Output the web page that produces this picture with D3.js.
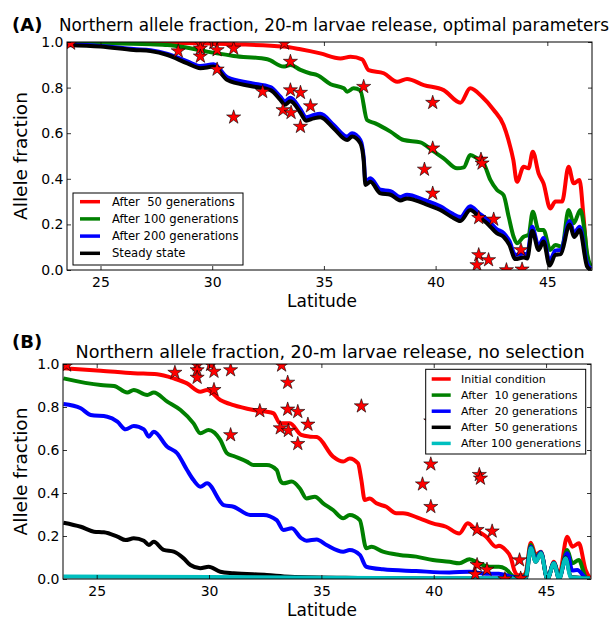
<!DOCTYPE html>
<html>
<head>
<meta charset="utf-8">
<script src="https://cdn.jsdelivr.net/npm/d3@7"></script>
<style>
  body { margin: 0; background: #fff; }
  svg { font-family: "DejaVu Sans", sans-serif; }
</style>
</head>
<body>
<svg id="fig" width="613" height="622"></svg>
<script>
// ---- data (latitude, allele fraction) ----
const latTicks = [25, 30, 35, 40, 45];
const fracTicks = [0, 0.2, 0.4, 0.6, 0.8, 1.0];

// observed samples (stars), same in both panels
const starLat = [23.66, 28.48, 29.47, 29.47, 29.47, 30.07, 30.22, 30.22, 30.96, 30.96,
  32.26, 33.23, 33.5, 33.5, 33.95, 34.4, 33.17, 33.53, 33.95, 36.78,
  39.87, 39.87, 39.5, 39.87, 42.03, 42.08, 41.93, 42.6, 43.82, 41.93,
  42.37, 41.85, 43.17, 43.87];
const starVal = [0.994, 0.96, 0.995, 0.972, 0.937, 0.997, 0.965, 0.88, 0.972, 0.67,
  0.782, 0.994, 0.914, 0.789, 0.778, 0.719, 0.702, 0.69, 0.629, 0.804,
  0.734, 0.534, 0.441, 0.336, 0.485, 0.468, 0.229, 0.222, 0.088, 0.066,
  0.044, 0.022, 0.0, 0.003];

// panel A: optimal parameters
const a50 = [[23.52,0.998],[25,0.998],[27.24,0.997],[29.47,0.994],[31,0.99],[33.19,0.98],
  [33.95,0.968],[34.84,0.95],[35.74,0.928],[36.19,0.935],[36.71,0.924],[37.0,0.877],
  [37.68,0.863],[38.28,0.826],[38.72,0.838],[39.47,0.811],[40.36,0.789],[41.11,0.734],
  [41.55,0.797],[42.08,0.76],[42.6,0.702],[43.04,0.636],[43.26,0.57],[43.48,0.482],
  [43.64,0.387],[43.94,0.453],[44.16,0.446],[44.35,0.519],[44.61,0.424],[44.83,0.38],
  [45.13,0.27],[45.36,0.3],[45.66,0.3],[45.95,0.453],[46.18,0.38],[46.44,0.395],
  [46.62,0.234],[46.78,0.058],[46.95,0.015]];
const a100 = [[23.52,0.997],[25,0.995],[27.24,0.99],[28.0,0.987],[28.89,0.975],[30.22,0.95],
  [30.96,0.939],[32.47,0.924],[33.19,0.892],[33.5,0.899],[33.95,0.878],[34.4,0.862],
  [34.7,0.855],[35.3,0.815],[35.89,0.797],[36.04,0.782],[36.33,0.797],[36.63,0.788],
  [36.93,0.658],[37.3,0.643],[37.98,0.607],[38.57,0.57],[39.32,0.56],[39.91,0.52],
  [40.36,0.49],[40.96,0.446],[41.26,0.45],[41.55,0.504],[41.85,0.49],[42.15,0.468],
  [42.45,0.395],[42.75,0.351],[43.04,0.329],[43.27,0.234],[43.49,0.146],[43.64,0.117],
  [43.94,0.146],[44.16,0.154],[44.35,0.256],[44.61,0.175],[44.83,0.175],[45.13,0.088],
  [45.36,0.11],[45.66,0.102],[45.95,0.263],[46.18,0.205],[46.48,0.263],[46.66,0.175],
  [46.78,0.073],[46.95,0.015]];
const a200 = [[23.52,0.99],[25,0.983],[26.48,0.969],[27.24,0.964],[28.0,0.948],[28.89,0.915],
  [29.47,0.895],[30.06,0.902],[30.68,0.845],[31.71,0.82],[32.61,0.802],[33.05,0.76],
  [33.25,0.74],[33.5,0.755],[33.95,0.705],[34.2,0.67],[34.54,0.68],[34.84,0.685],
  [35.44,0.636],[36.04,0.585],[36.26,0.6],[36.63,0.57],[36.78,0.495],[36.86,0.388],
  [37.08,0.402],[37.53,0.352],[37.98,0.346],[38.42,0.32],[38.72,0.33],[39.47,0.308],
  [40.21,0.279],[40.7,0.25],[41.11,0.232],[41.55,0.28],[41.93,0.25],[42.3,0.222],
  [42.75,0.178],[43.04,0.163],[43.3,0.128],[43.57,0.066],[43.94,0.072],[44.1,0.068],
  [44.32,0.19],[44.61,0.105],[44.83,0.14],[45.1,0.04],[45.36,0.085],[45.6,0.088],
  [46.0,0.215],[46.2,0.162],[46.45,0.19],[46.78,0.03],[46.95,0.005]];
const aSteady = [[23.52,0.987],[25,0.98],[26.48,0.965],[27.24,0.96],[28.0,0.943],[28.89,0.906],
  [29.47,0.885],[30.06,0.892],[30.68,0.833],[31.71,0.807],[32.61,0.789],[33.05,0.746],
  [33.25,0.725],[33.5,0.74],[33.95,0.69],[34.2,0.655],[34.54,0.665],[34.84,0.67],
  [35.44,0.621],[36.04,0.57],[36.26,0.585],[36.63,0.556],[36.78,0.48],[36.86,0.373],
  [37.08,0.387],[37.53,0.336],[37.98,0.33],[38.42,0.305],[38.72,0.314],[39.47,0.292],
  [40.21,0.263],[40.7,0.234],[41.11,0.215],[41.55,0.263],[41.93,0.234],[42.3,0.205],
  [42.75,0.161],[43.04,0.146],[43.3,0.11],[43.57,0.048],[43.94,0.055],[44.1,0.05],
  [44.32,0.172],[44.61,0.088],[44.83,0.125],[45.1,0.02],[45.36,0.066],[45.6,0.07],
  [46.0,0.2],[46.2,0.145],[46.45,0.175],[46.78,0.015],[46.95,0.0]];

// panel B: no selection
const bInit = [[23.52,0.98],[25.18,0.969],[26.65,0.957],[27.69,0.952],[28.43,0.933],[29.02,0.91],
  [29.61,0.871],[29.91,0.879],[30.5,0.833],[31.09,0.809],[31.98,0.786],[32.86,0.771],
  [33.16,0.724],[33.6,0.724],[34.1,0.67],[34.5,0.662],[34.8,0.66],[35.52,0.569],
  [35.97,0.546],[36.26,0.561],[36.63,0.538],[36.78,0.46],[36.93,0.367],[37.15,0.375],
  [37.45,0.352],[37.89,0.336],[38.33,0.306],[38.63,0.306],[39.37,0.282],[39.96,0.259],
  [40.55,0.243],[41.14,0.212],[41.51,0.259],[41.88,0.228],[42.33,0.197],[42.77,0.15],
  [42.9,0.155],[43.2,0.135],[43.43,0.1],[43.58,0.042],[43.73,0.018],[44.0,0.018],
  [44.1,0.03],[44.32,0.169],[44.54,0.112],[44.77,0.127],[45.06,0.0],[45.35,0.08],
  [45.58,0.017],[45.94,0.197],[46.17,0.15],[46.46,0.166],[46.76,0.042],[46.95,0.005]];
const b10 = [[23.52,0.933],[25.18,0.902],[25.77,0.898],[26.36,0.867],[26.65,0.879],[27.25,0.856],
  [27.54,0.867],[28.14,0.825],[28.73,0.786],[29.31,0.724],[29.61,0.678],[29.98,0.693],
  [30.5,0.647],[30.8,0.585],[31.09,0.572],[31.68,0.546],[31.98,0.53],[32.57,0.53],
  [33.01,0.507],[33.16,0.46],[33.31,0.445],[33.68,0.453],[34.05,0.42],[34.34,0.375],
  [34.71,0.383],[35.08,0.352],[35.52,0.321],[35.97,0.282],[36.26,0.298],[36.71,0.274],
  [37.0,0.143],[37.23,0.15],[37.74,0.127],[38.48,0.112],[39.22,0.104],[39.96,0.088],
  [40.7,0.08],[41.14,0.073],[41.59,0.092],[42.03,0.073],[42.47,0.057],[42.9,0.057],
  [43.2,0.047],[43.58,0.01],[43.9,0.005],[44.1,0.02],[44.32,0.158],[44.54,0.1],
  [44.77,0.125],[45.06,0.005],[45.35,0.075],[45.58,0.01],[45.94,0.135],[46.17,0.073],
  [46.46,0.088],[46.76,0.01],[46.95,0.0]];
const b20 = [[23.52,0.814],[24.29,0.794],[24.73,0.763],[25.47,0.755],[25.92,0.732],[26.29,0.696],
  [26.65,0.712],[27.1,0.696],[27.32,0.662],[27.54,0.685],[28.14,0.615],[28.58,0.585],
  [29.02,0.507],[29.31,0.46],[29.61,0.429],[29.91,0.445],[30.65,0.344],[31.09,0.336],
  [31.83,0.298],[32.42,0.298],[33.01,0.274],[33.31,0.228],[33.68,0.236],[34.1,0.19],
  [34.34,0.178],[34.79,0.184],[35.23,0.158],[35.97,0.127],[36.26,0.135],[36.71,0.112],
  [37.0,0.057],[37.74,0.045],[39.22,0.037],[40.7,0.03],[41.59,0.034],[42.33,0.025],
  [42.9,0.025],[43.4,0.012],[43.7,0.005],[44.1,0.01],[44.32,0.15],[44.54,0.09],
  [44.77,0.125],[45.06,0.003],[45.35,0.075],[45.58,0.005],[45.94,0.12],[46.17,0.04],
  [46.39,0.042],[46.76,0.005],[46.95,0.0]];
const b50 = [[23.52,0.262],[24.29,0.243],[24.88,0.22],[25.32,0.217],[25.92,0.197],[26.29,0.181],
  [26.65,0.189],[27.1,0.178],[27.32,0.158],[27.54,0.173],[27.98,0.135],[28.43,0.127],
  [28.87,0.096],[29.17,0.065],[29.61,0.05],[29.98,0.057],[30.5,0.034],[31.09,0.027],
  [32.57,0.019],[33.6,0.011],[36.78,0.005],[40.0,0.002],[44.1,0.003],[44.32,0.144],
  [44.54,0.08],[44.77,0.12],[45.06,0.0],[45.35,0.073],[45.58,0.0],[45.87,0.1],
  [46.1,0.01],[46.5,0.006],[46.95,0.002]];
const b100 = [[23.52,0.012],[30,0.009],[35,0.006],[40,0.004],[44.0,0.003],[44.1,0.005],
  [44.32,0.144],[44.54,0.08],[44.77,0.12],[45.06,0.0],[45.35,0.073],[45.58,0.0],
  [45.87,0.096],[46.1,0.008],[46.5,0.005],[46.95,0.003]];

const seriesA = [
  {name: "After  50 generations", color: "#ff0000", data: a50},
  {name: "After 100 generations", color: "#008000", data: a100},
  {name: "After 200 generations", color: "#0000ff", data: a200},
  {name: "Steady state", color: "#000000", data: aSteady}
];
const seriesB = [
  {name: "Initial condition", color: "#ff0000", data: bInit},
  {name: "After  10 generations", color: "#008000", data: b10},
  {name: "After  20 generations", color: "#0000ff", data: b20},
  {name: "After  50 generations", color: "#000000", data: b50},
  {name: "After 100 generations", color: "#00bfbf", data: b100}
];

const svg = d3.select("#fig");

function drawPanel(p) {
  const x = d3.scaleLinear().domain([23.5, 47]).range([p.x0, p.x1]);
  const y = d3.scaleLinear().domain([0, 1]).range([p.y1, p.y0]);
  const g = svg.append("g");

  g.append("clipPath").attr("id", p.id + "clip")
    .append("rect")
    .attr("x", p.x0).attr("y", p.y0)
    .attr("width", p.x1 - p.x0).attr("height", p.y1 - p.y0);

  const plot = g.append("g").attr("clip-path", "url(#" + p.id + "clip)");

  const line = d3.line()
    .x(d => x(d[0]))
    .y(d => y(d[1]))
    .curve(d3.curveMonotoneX);

  p.series.forEach(s => {
    plot.append("path")
      .datum(s.data)
      .attr("d", line)
      .attr("fill", "none")
      .attr("stroke", s.color)
      .attr("stroke-width", 4)
      .attr("stroke-linejoin", "round");
  });

  const star = d3.symbol().type(d3.symbolStar).size(62);
  plot.selectAll(".star")
    .data(starLat.map((d, i) => [d, starVal[i]]))
    .enter().append("path")
    .attr("class", "star")
    .attr("transform", d => "translate(" + x(d[0]) + "," + y(d[1]) + ")")
    .attr("d", star)
    .attr("fill", "#ff0000")
    .attr("stroke", "#000")
    .attr("stroke-width", 0.6);

  // axes, ticks pointing inwards on all sides
  const bottom = g.append("g")
    .attr("transform", "translate(0," + p.y1 + ")")
    .call(d3.axisBottom(x).tickValues(latTicks).tickSizeInner(-4).tickSizeOuter(0).tickPadding(7.5));
  const left = g.append("g")
    .attr("transform", "translate(" + p.x0 + ",0)")
    .call(d3.axisLeft(y).tickValues(fracTicks).tickFormat(d3.format(".1f"))
      .tickSizeInner(-4).tickSizeOuter(0).tickPadding(3.5));
  const top = g.append("g")
    .attr("transform", "translate(0," + p.y0 + ")")
    .call(d3.axisTop(x).tickValues(latTicks).tickFormat("").tickSizeInner(-4).tickSizeOuter(0));
  const right = g.append("g")
    .attr("transform", "translate(" + p.x1 + ",0)")
    .call(d3.axisRight(y).tickValues(fracTicks).tickFormat("").tickSizeInner(-4).tickSizeOuter(0));

  [bottom, left, top, right].forEach(a => {
    a.select(".domain").remove();
    a.selectAll("line").attr("stroke", "#000").attr("stroke-width", 0.8);
    a.selectAll("text").attr("font-size", 14).attr("fill", "#000")
      .attr("font-family", "DejaVu Sans");
  });

  g.append("rect")
    .attr("x", p.x0).attr("y", p.y0)
    .attr("width", p.x1 - p.x0).attr("height", p.y1 - p.y0)
    .attr("fill", "none").attr("stroke", "#000").attr("stroke-width", 1);

  // legend
  const L = p.legend;
  const leg = g.append("g");
  leg.append("rect")
    .attr("x", L.x).attr("y", L.y).attr("width", L.w).attr("height", L.h)
    .attr("fill", "#fff").attr("stroke", "#000").attr("stroke-width", 1);
  p.series.forEach((s, i) => {
    const yy = L.row0 + i * L.step;
    leg.append("line")
      .attr("x1", L.sx0).attr("x2", L.sx1).attr("y1", yy).attr("y2", yy)
      .attr("stroke", s.color).attr("stroke-width", 3.5);
    leg.append("text")
      .attr("x", L.tx).attr("y", yy).attr("dy", "0.36em")
      .attr("font-size", L.fs)
      .style("white-space", "pre")
      .text(s.name);
  });

  // labels
  g.append("text").attr("x", 12).attr("y", p.tagY)
    .attr("font-size", 18).attr("font-weight", "bold").text(p.tag);
  g.append("text").attr("x", p.titleX).attr("y", p.titleY)
    .attr("text-anchor", "middle").attr("font-size", p.titleFs).text(p.title);
  g.append("text").attr("x", 322).attr("y", p.xlabY)
    .attr("text-anchor", "middle").attr("font-size", 17).text("Latitude");
  g.append("text")
    .attr("transform", "translate(27," + ((p.y0 + p.y1) / 2) + ") rotate(-90)")
    .attr("text-anchor", "middle").attr("font-size", 18.5).text("Allele fraction");
}

drawPanel({
  id: "A", x0: 67, x1: 592, y0: 42, y1: 270,
  series: seriesA, tag: "(A)", tagY: 31,
  title: "Northern allele fraction, 20-m larvae release, optimal parameters",
  titleX: 334, titleY: 31, titleFs: 16.8, xlabY: 307,
  legend: {x: 73, y: 193, w: 170, h: 72, row0: 201.7, step: 17.2,
           sx0: 80, sx1: 100, tx: 112, fs: 11.6}
});

drawPanel({
  id: "B", x0: 63, x1: 591, y0: 364, y1: 579,
  series: seriesB, tag: "(B)", tagY: 348,
  title: "Northern allele fraction, 20-m larvae release, no selection",
  titleX: 330, titleY: 358, titleFs: 17.6, xlabY: 616,
  legend: {x: 425.7, y: 369.3, w: 160, h: 84.7, row0: 379, step: 16.1,
           sx0: 431.7, sx1: 450.7, tx: 461, fs: 11}
});
</script>
</body>
</html>
